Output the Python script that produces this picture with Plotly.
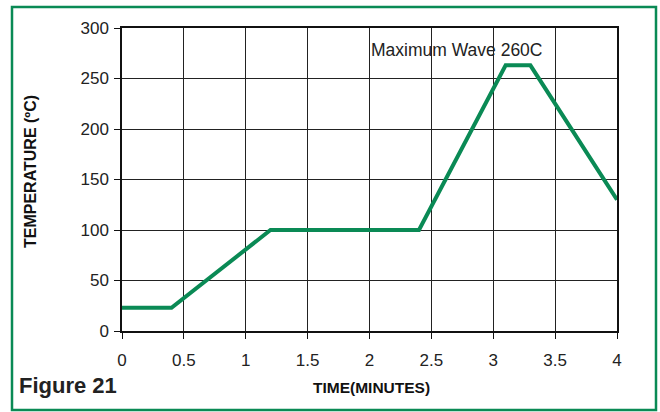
import plotly.graph_objects as go

time_min = [0, 0.4, 1.2, 2.4, 3.1, 3.3, 4.0]
temp_c = [23, 23, 100, 100, 263, 263, 130]
x_ticks = [0, 0.5, 1, 1.5, 2, 2.5, 3, 3.5, 4]
x_tick_labels = ["0", "0.5", "1", "1.5", "2", "2.5", "3", "3.5", "4"]
y_ticks = [0, 50, 100, 150, 200, 250, 300]

GREEN = "#0a8a55"
W, H = 660, 412
L, R, T, B = 122, 43, 28, 81
pw, ph = W - L - R, H - T - B

def px(x):
    return (x - L) / pw

def py(y):
    return (H - B - y) / ph

fig = go.Figure()
fig.add_trace(go.Scatter(x=time_min, y=temp_c, mode="lines",
                         line=dict(color=GREEN, width=4), hoverinfo="skip"))

axis_common = dict(showgrid=True, gridcolor="#222", gridwidth=1,
                   showline=True, linecolor="#111", linewidth=1.5, mirror=True,
                   ticks="outside", ticklen=6, tickcolor="#111",
                   tickfont=dict(size=17, color="#222"), zeroline=False)
fig.update_xaxes(range=[0, 4], tickvals=x_ticks, ticktext=x_tick_labels,
                 ticklabelstandoff=7, **axis_common)
fig.update_yaxes(range=[0, 300], tickvals=y_ticks, ticklabelstandoff=2, **axis_common)

fig.add_annotation(x=2.7, y=278, text="Maximum Wave 260C", showarrow=False,
                   font=dict(size=17.5, color="#222"))
fig.add_annotation(xref="paper", yref="paper", x=px(30), y=py(172),
                   xanchor="center", yanchor="middle",
                   text="<b>TEMPERATURE (ºC)</b>", textangle=-90, showarrow=False,
                   font=dict(size=16, color="#111"))
fig.add_annotation(xref="paper", yref="paper", x=px(371), y=py(387),
                   xanchor="center", yanchor="middle",
                   text="<b>TIME(MINUTES)</b>", showarrow=False,
                   font=dict(size=15.5, color="#111"))
fig.add_annotation(xref="paper", yref="paper", x=px(17), y=py(385),
                   xanchor="left", yanchor="middle",
                   text="<b>Figure 21</b>", showarrow=False,
                   font=dict(size=22, color="#222"))
fig.add_shape(type="rect", xref="paper", yref="paper",
              x0=px(12), x1=px(656), y0=py(410), y1=py(7),
              line=dict(color=GREEN, width=2.5), layer="below")

fig.update_layout(width=W, height=H, margin=dict(l=L, r=R, t=T, b=B),
                  paper_bgcolor="white", plot_bgcolor="white", showlegend=False,
                  font=dict(family="Liberation Sans, Arial, sans-serif"))
fig.write_html("out.html", config={"displayModeBar": False},
               post_script="document.body.style.margin='0';document.body.style.overflow='hidden';")
